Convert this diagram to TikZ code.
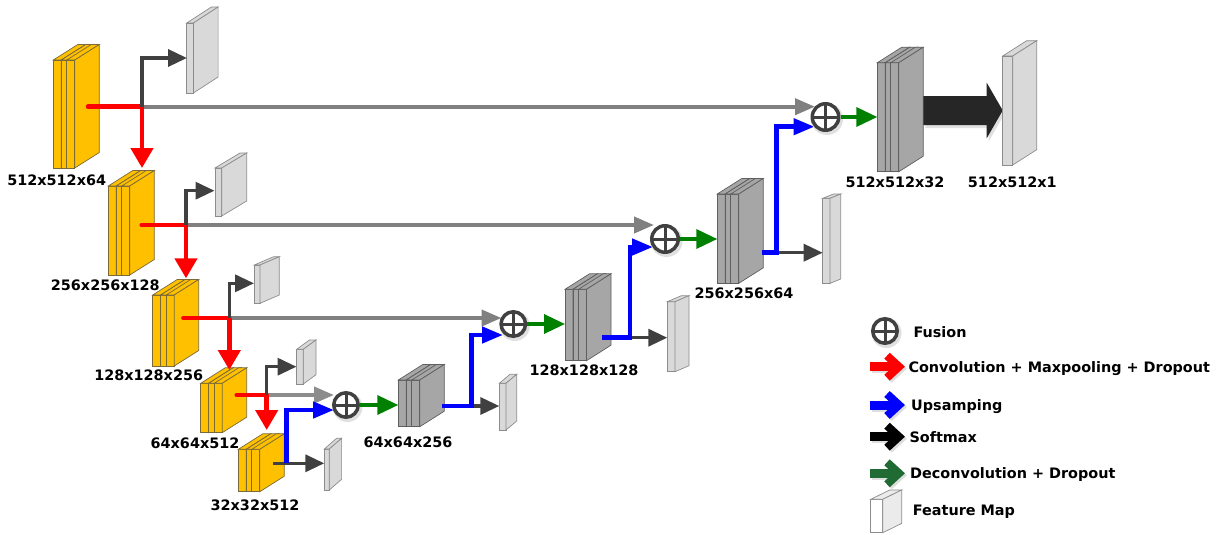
\documentclass[tikz,border=0pt]{standalone}
\usepackage{fontspec}
\setmainfont{DejaVu Sans}
\usetikzlibrary{arrows.meta}
\definecolor{encY}{HTML}{FFC000}
\definecolor{encD}{HTML}{7A6A3A}
\definecolor{decG}{HTML}{A6A6A6}
\definecolor{decD}{HTML}{5F5F5F}
\definecolor{fmG}{HTML}{D9D9D9}
\definecolor{fmD}{HTML}{8C8C8C}
\definecolor{dgrey}{HTML}{404040}
\definecolor{mgrey}{HTML}{808080}
\definecolor{myblue}{HTML}{0000FF}
\definecolor{mygreen}{HTML}{008000}
\definecolor{myred}{HTML}{FF0000}
\definecolor{leggreen}{HTML}{1F6B33}
\definecolor{bigblk}{HTML}{262626}

% single 3D slab: x, ytop, ybot, w, dx, dy, style
\newcommand{\slab}[7]{%
  \path[#7] ({#1},{#2}) rectangle ({#1+#4},{#3});
  \path[#7] ({#1},{#2}) -- ({#1+#4},{#2}) -- ({#1+#4+#5},{#2-#6}) -- ({#1+#5},{#2-#6}) -- cycle;
  \path[#7] ({#1+#4},{#2}) -- ({#1+#4+#5},{#2-#6}) -- ({#1+#4+#5},{#3-#6}) -- ({#1+#4},{#3}) -- cycle;
}
% three stacked slabs: x0, ytop, ybot, style
\newcommand{\tblock}[4]{%
  \slab{#1}{#2}{#3}{8}{24.5}{15.5}{#4}
  \slab{#1+8}{#2}{#3}{8}{24.5}{15.5}{#4}
  \slab{#1+13.5}{#2}{#3}{8}{24.5}{15.5}{#4}
}
% legend arrow: y, colour
\newcommand{\legarrow}[2]{%
  \draw[black!13, line width=9pt] (872,{#1+2}) -- (898,{#1+2});
  \draw[black!13, line width=8pt] (889,{#1-9}) -- (901,{#1+2}) -- (889,{#1+13});
  \draw[#2, line width=9pt] (870,{#1}) -- (896,{#1});
  \draw[#2, line width=8pt] (887,{#1-11}) -- (899,{#1}) -- (887,{#1+11});
}

\tikzset{
  enc/.style={fill=encY, draw=encD, line width=0.7pt},
  dec/.style={fill=decG, draw=decD, line width=0.7pt},
  fm/.style={fill=fmG, draw=fmD, line width=0.7pt},
  legfm/.style={fill=white, draw=fmD, line width=0.7pt},
  legfmside/.style={fill=black!8, draw=fmD, line width=0.7pt},
  redarr/.style={draw=myred, line width=4.5pt, -{Triangle[width=22pt,length=20pt]}},
  redline/.style={draw=myred, line width=4.5pt, line cap=round},
  darr/.style={draw=dgrey, line width=3.5pt, -{Triangle[width=17pt,length=19pt]}},
  garr/.style={draw=mgrey, line width=4pt, -{Triangle[width=16pt,length=20pt]}},
  barr/.style={draw=myblue, line width=4.5pt, -{Triangle[width=16pt,length=21pt]}},
  grarr/.style={draw=mygreen, line width=3.5pt, -{Triangle[width=19pt,length=21pt]}},
  fusion/.style={circle, draw=dgrey, line width=3.5pt, fill=white, inner sep=0pt,
    minimum size=#1,
    path picture={\draw[dgrey, line width=3pt]
      (path picture bounding box.north) -- (path picture bounding box.south)
      (path picture bounding box.west) -- (path picture bounding box.east);}},
  lab/.style={anchor=base, inner sep=0pt, font=\bfseries\fontsize{14.4}{17}\selectfont},
  legtext/.style={anchor=base west, inner sep=0pt, font=\bfseries\fontsize{14.4}{17}\selectfont},
}

\begin{document}
\begin{tikzpicture}[x=1pt,y=-1pt]
\useasboundingbox (0,0) rectangle (1228,535);

% ---------- encoder blocks ----------
\tblock{53.3}{60}{168}{enc}
\tblock{108.3}{186}{275}{enc}
\tblock{152.7}{295}{366}{enc}
\tblock{200.7}{383.3}{432.7}{enc}
\tblock{238.3}{449.3}{491.7}{enc}

% ---------- decoder blocks ----------
\tblock{398.3}{380}{426.7}{dec}
\tblock{565}{289.3}{360.7}{dec}
\tblock{717.3}{194}{283.3}{dec}
\tblock{877.3}{62.7}{171.7}{dec}

% ---------- feature maps ----------
\slab{186.7}{23}{93}{6.7}{24.7}{16}{fm}
\slab{215}{168}{216}{6.7}{25}{15}{fm}
\slab{254.3}{265}{303.3}{5.7}{19.3}{8.3}{fm}
\slab{296.7}{349.3}{384}{6.6}{12.7}{9.3}{fm}
\slab{324.3}{449}{490}{5}{12.3}{10.7}{fm}
\slab{499.3}{383.3}{430}{6.7}{10.7}{9}{fm}
\slab{667.3}{301.7}{371.7}{7.7}{14}{6}{fm}
\slab{822.7}{198.3}{283.3}{7.3}{10.7}{4.3}{fm}

% ---------- coordinates ----------
\coordinate (e1s) at (88,106.7);   \coordinate (j1) at (142,106.7);
\coordinate (e2in) at (142,168);   \coordinate (m1in) at (187,58);
\coordinate (f4a) at (815,106.7);

\coordinate (e2s) at (141.7,225);  \coordinate (j2) at (186,225);
\coordinate (e3in) at (186,278.3); \coordinate (m2in) at (214.5,190.7);
\coordinate (f3a) at (654,225);

\coordinate (e3s) at (183.3,318);  \coordinate (j3) at (229.3,318);
\coordinate (e4in) at (229.3,370); \coordinate (m3in) at (254,283.3);
\coordinate (f2a) at (501.5,318);

\coordinate (e4s) at (236.7,395);  \coordinate (j4) at (266.7,395);
\coordinate (e5in) at (266.7,430); \coordinate (m4in) at (296.5,366.7);
\coordinate (f1a) at (334,395);

\coordinate (e5s) at (273.3,463.3); \coordinate (j5) at (286.7,463.3);
\coordinate (m5in) at (324.3,463.3); \coordinate (f1b) at (334,410);

\coordinate (d1in) at (398.3,405);
\coordinate (d1s) at (441.7,406);  \coordinate (k1) at (471.7,406);
\coordinate (m6in) at (499.3,406); \coordinate (f2b) at (503,335);

\coordinate (d2in) at (565,324);
\coordinate (d2s) at (601.7,337.7); \coordinate (k2) at (630,337.7);
\coordinate (m7in) at (667.3,337.7); \coordinate (f3b) at (653,247);

\coordinate (d3in) at (717.3,239);
\coordinate (d3s) at (761.7,252.7); \coordinate (k3) at (776.7,252.7);
\coordinate (m8in) at (822.7,252.7); \coordinate (f4b) at (814.5,126.7);

\coordinate (d4in) at (877.3,117);

% ---------- encoder connectors ----------
\draw[garr] (j1) -- (f4a);
\draw[redline] (e1s) -- (j1);
\draw[redarr] (j1) -- (e2in);
\draw[darr] (j1) |- (m1in);

\draw[garr] (j2) -- (f3a);
\draw[redline] (e2s) -- (j2);
\draw[redarr] (j2) -- (e3in);
\draw[darr] (j2) |- (m2in);

\draw[garr] (j3) -- (f2a);
\draw[redline] (e3s) -- (j3);
\draw[redarr] (j3) -- (e4in);
\draw[darr] (j3) |- (m3in);

\draw[garr, draw=black!45] (j4) -- (f1a);
\draw[redline] (e4s) -- (j4);
\draw[redarr] (j4) -- (e5in);
\draw[darr] (j4) |- (m4in);

\draw[darr] (e5s) -- (m5in);
\draw[barr] (j5) |- (f1b);

% ---------- decoder connectors ----------
\draw[darr] (d1s) -- (m6in);
\draw[barr] (d1s) -- (k1) |- (f2b);
\draw[darr] (d2s) -- (m7in);
\draw[barr] (d2s) -- (k2) |- (f3b);
\draw[darr] (d3s) -- (m8in);
\draw[barr] (d3s) -- (k3) |- (f4b);

% ---------- fusion nodes ----------
\fill[black!12] (347.5,407) circle[radius=15pt];
\node[fusion=24.5pt] (f1) at (346,405) {};
\fill[black!12] (514.8,326) circle[radius=15pt];
\node[fusion=24.5pt] (f2) at (513.3,324) {};
\fill[black!12] (666.5,241) circle[radius=16pt];
\node[fusion=26.5pt] (f3) at (665,239) {};
\fill[black!12] (827,119) circle[radius=16pt];
\node[fusion=26.5pt] (f4) at (825.5,117) {};

\draw[grarr] (f1.east) -- (d1in);
\draw[grarr] (f2.east) -- (d2in);
\draw[grarr] (f3.east) -- (d3in);
\draw[grarr] (f4.east) -- (d4in);

% ---------- softmax arrow and output ----------
\fill[black!12] (925.3,99) -- (988.7,99) -- (988.7,85.7) -- (1004.7,113.5) -- (988.7,141.3) -- (988.7,128) -- (925.3,128) -- cycle;
\fill[bigblk] (923.3,96) -- (986.7,96) -- (986.7,82.7) -- (1002.7,110.5) -- (986.7,138.3) -- (986.7,125) -- (923.3,125) -- cycle;
\slab{1002.7}{56}{165}{10}{24}{15.3}{fm}

% ---------- labels ----------
\node[lab] (l1) at (56.7,185.3) {512x512x64};
\node[lab] (l2) at (105.3,290.3) {256x256x128};
\node[lab] (l3) at (148.7,380.3) {128x128x256};
\node[lab] (l4) at (195,448.3) {64x64x512};
\node[lab] (l5) at (255,510.3) {32x32x512};
\node[lab] (l6) at (408,447) {64x64x256};
\node[lab] (l7) at (584,375.8) {128x128x128};
\node[lab] (l8) at (744,298.5) {256x256x64};
\node[lab] (l9) at (895,187.5) {512x512x32};
\node[lab] (l10) at (1012.3,187.5) {512x512x1};

% ---------- legend ----------
\fill[black!12] (886.5,333) circle[radius=15pt];
\node[fusion=24.5pt] (fL) at (885,331) {};
\node[legtext] (t1) at (913.3,337) {Fusion};
\legarrow{366.7}{myred}
\node[legtext] (t2) at (908.3,372) {Convolution + Maxpooling + Dropout};
\legarrow{405}{myblue}
\node[legtext] (t3) at (911,410.3) {Upsamping};
\legarrow{436.7}{black}
\node[legtext] (t4) at (909.3,442.3) {Softmax};
\legarrow{473.3}{leggreen}
\node[legtext] (t5) at (910,478.3) {Deconvolution + Dropout};
\path[legfm] (870.7,499.3) rectangle (882.7,532.7);
\path[legfmside] (870.7,499.3) -- (882.7,499.3) -- (901.7,490) -- (889.7,490) -- cycle;
\path[legfmside] (882.7,499.3) -- (901.7,490) -- (901.7,523.4) -- (882.7,532.7) -- cycle;
\node[legtext] (t6) at (912.7,515.6) {Feature Map};
\end{tikzpicture}
\end{document}
